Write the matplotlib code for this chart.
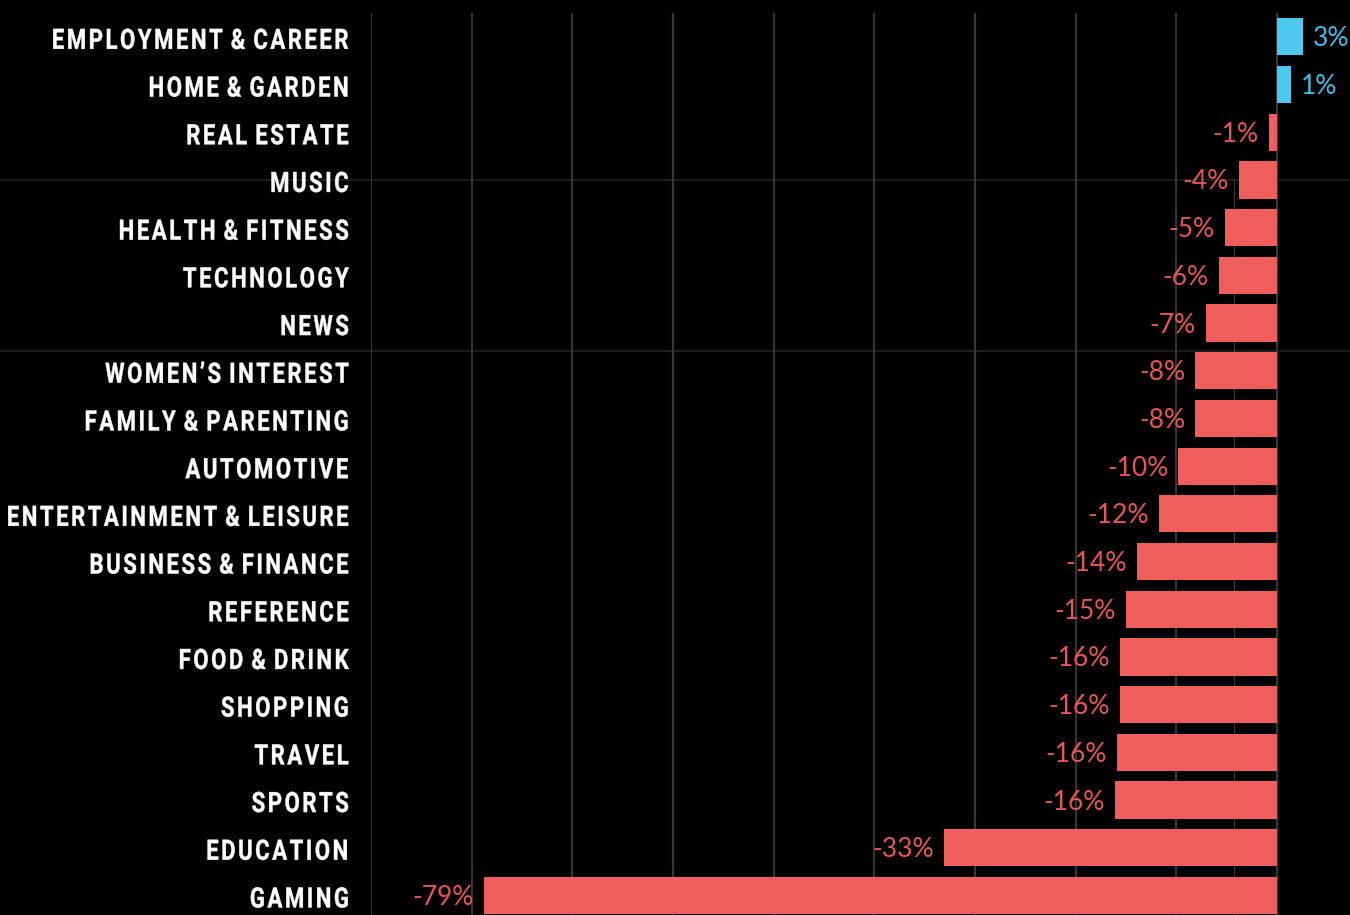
import numpy as np
import matplotlib.pyplot as plt
from matplotlib.path import Path
from matplotlib.patheffects import AbstractPathEffect
from matplotlib.transforms import Affine2D, IdentityTransform

CATEGORIES = [
    "EMPLOYMENT & CAREER",
    "HOME & GARDEN",
    "REAL ESTATE",
    "MUSIC",
    "HEALTH & FITNESS",
    "TECHNOLOGY",
    "NEWS",
    "WOMEN\u2019S INTEREST",
    "FAMILY & PARENTING",
    "AUTOMOTIVE",
    "ENTERTAINMENT & LEISURE",
    "BUSINESS & FINANCE",
    "REFERENCE",
    "FOOD & DRINK",
    "SHOPPING",
    "TRAVEL",
    "SPORTS",
    "EDUCATION",
    "GAMING",
]
CHANGE_PCT = [
    2.6, 1.4, -0.8, -3.8, -5.2, -5.8, -7.1, -8.1, -8.1, -9.8,
    -11.7, -13.9, -15.0, -15.6, -15.6, -15.9, -16.1, -33.1, -78.8,
]

BG = "#000000"
RED = "#f05d5d"
BLUE = "#4dc8ee"
GRID = "#363636"
GUIDE = "#1e1e1e"
W, H = 1350, 915


class Condensed(AbstractPathEffect):
    """Narrow the glyphs and open up the letter spacing, keeping the right edge."""

    def __init__(self, squeeze=0.85, track=1.8, stretch=1.0, stroke=0.0):
        super().__init__()
        self.squeeze = squeeze
        self.track = track
        self.stretch = stretch
        self.stroke = stroke

    def draw_path(self, renderer, gc, tpath, affine, rgbFace=None):
        path = (Affine2D().scale(1, self.stretch) + affine).transform_path(tpath)
        verts = path.vertices.copy()
        codes = path.codes
        if codes is None or len(verts) == 0:
            renderer.draw_path(gc, tpath, affine, rgbFace)
            return
        starts = list(np.flatnonzero(codes == Path.MOVETO)) + [len(verts)]
        live = codes != Path.CLOSEPOLY
        spans = []
        for a, b in zip(starts[:-1], starts[1:]):
            xs = verts[a:b][live[a:b], 0]
            spans.append((xs.min(), xs.max(), a, b))
        spans.sort()
        # group contours into glyphs by horizontal overlap
        glyphs = []
        for lo, hi, a, b in spans:
            if glyphs:
                g = glyphs[-1]
                ov = min(hi, g[1]) - max(lo, g[0])
                if ov > 0.5 * min(hi - lo, g[1] - g[0]):
                    g[0], g[1] = min(lo, g[0]), max(hi, g[1])
                    g[2].append((a, b))
                    continue
            glyphs.append([lo, hi, [(a, b)]])
        right = max(g[1] for g in glyphs)
        n = len(glyphs)
        for k, (_, _, parts) in enumerate(glyphs):
            shift = (n - 1 - k) * self.track
            for a, b in parts:
                verts[a:b, 0] = right - (right - verts[a:b, 0]) * self.squeeze - shift
        gc0 = renderer.new_gc()
        gc0.copy_properties(gc)
        if self.stroke and rgbFace is not None:
            gc0.set_linewidth(self.stroke)
            gc0.set_foreground(rgbFace)
        renderer.draw_path(gc0, Path(verts, codes), IdentityTransform(), rgbFace)
        gc0.restore()


fig = plt.figure(figsize=(W / 100, H / 100), dpi=100, facecolor=BG)
left, right, top = 371 / W, 1.0, 1 - 13 / H
ax = fig.add_axes([left, 0.0, right - left, top], facecolor=BG)

ys = list(range(len(CATEGORIES)))
colors = [BLUE if v > 0 else RED for v in CHANGE_PCT]

# faint guide lines running across the whole figure
span = -left / (right - left)
for gy in (3.0, 6.58):
    ax.axhline(gy, xmin=span, xmax=1, color=GUIDE, lw=1.4, zorder=0, clip_on=False)
ax.vlines(-4.3, 3.0, 18.5, color="#3c3c3c", lw=0.8, zorder=0.5)

ax.barh(ys, CHANGE_PCT, height=0.78, color=colors, zorder=2)

for y, v in zip(ys, CHANGE_PCT):
    txt_col = "#3fbfe6" if v > 0 else "#e65656"
    ax.annotate(
        f"{v:.0f}%",
        xy=(v, y),
        xytext=(10 if v > 0 else -10, -9.5),
        textcoords="offset pixels",
        ha="left" if v > 0 else "right",
        va="baseline",
        fontsize=19,
        family="Lato",
        color=txt_col,
        zorder=3,
    )

# category names, condensed caps a little below each row centre
LABEL_PT = 18.5
CAP_PT = 20.2
for y, name in zip(ys, CATEGORIES):
    ax.annotate(
        name,
        xy=(0, y),
        xycoords=("axes fraction", "data"),
        xytext=(-22, -12),
        textcoords="offset pixels",
        ha="right",
        va="baseline",
        fontsize=LABEL_PT,
        family="Roboto",
        weight="bold",
        color="white",
        annotation_clip=False,
        path_effects=[Condensed(0.79 * CAP_PT / LABEL_PT, 2.5,
                                stretch=CAP_PT / LABEL_PT, stroke=0.3)],
    )

ax.set_xlim(-90, 73 / (906 / 90))
ax.set_ylim(18.41, -0.5)
ax.set_xticks(range(-90, 1, 10))
ax.xaxis.grid(True, color=GRID, lw=1.6, zorder=1)
ax.set_axisbelow(True)
ax.tick_params(axis="x", length=0, labelbottom=False)
ax.set_yticks(ys)
ax.tick_params(axis="y", length=0, labelleft=False)
for s in ax.spines.values():
    s.set_visible(False)

fig.savefig("out.png", dpi=100, facecolor=BG)
